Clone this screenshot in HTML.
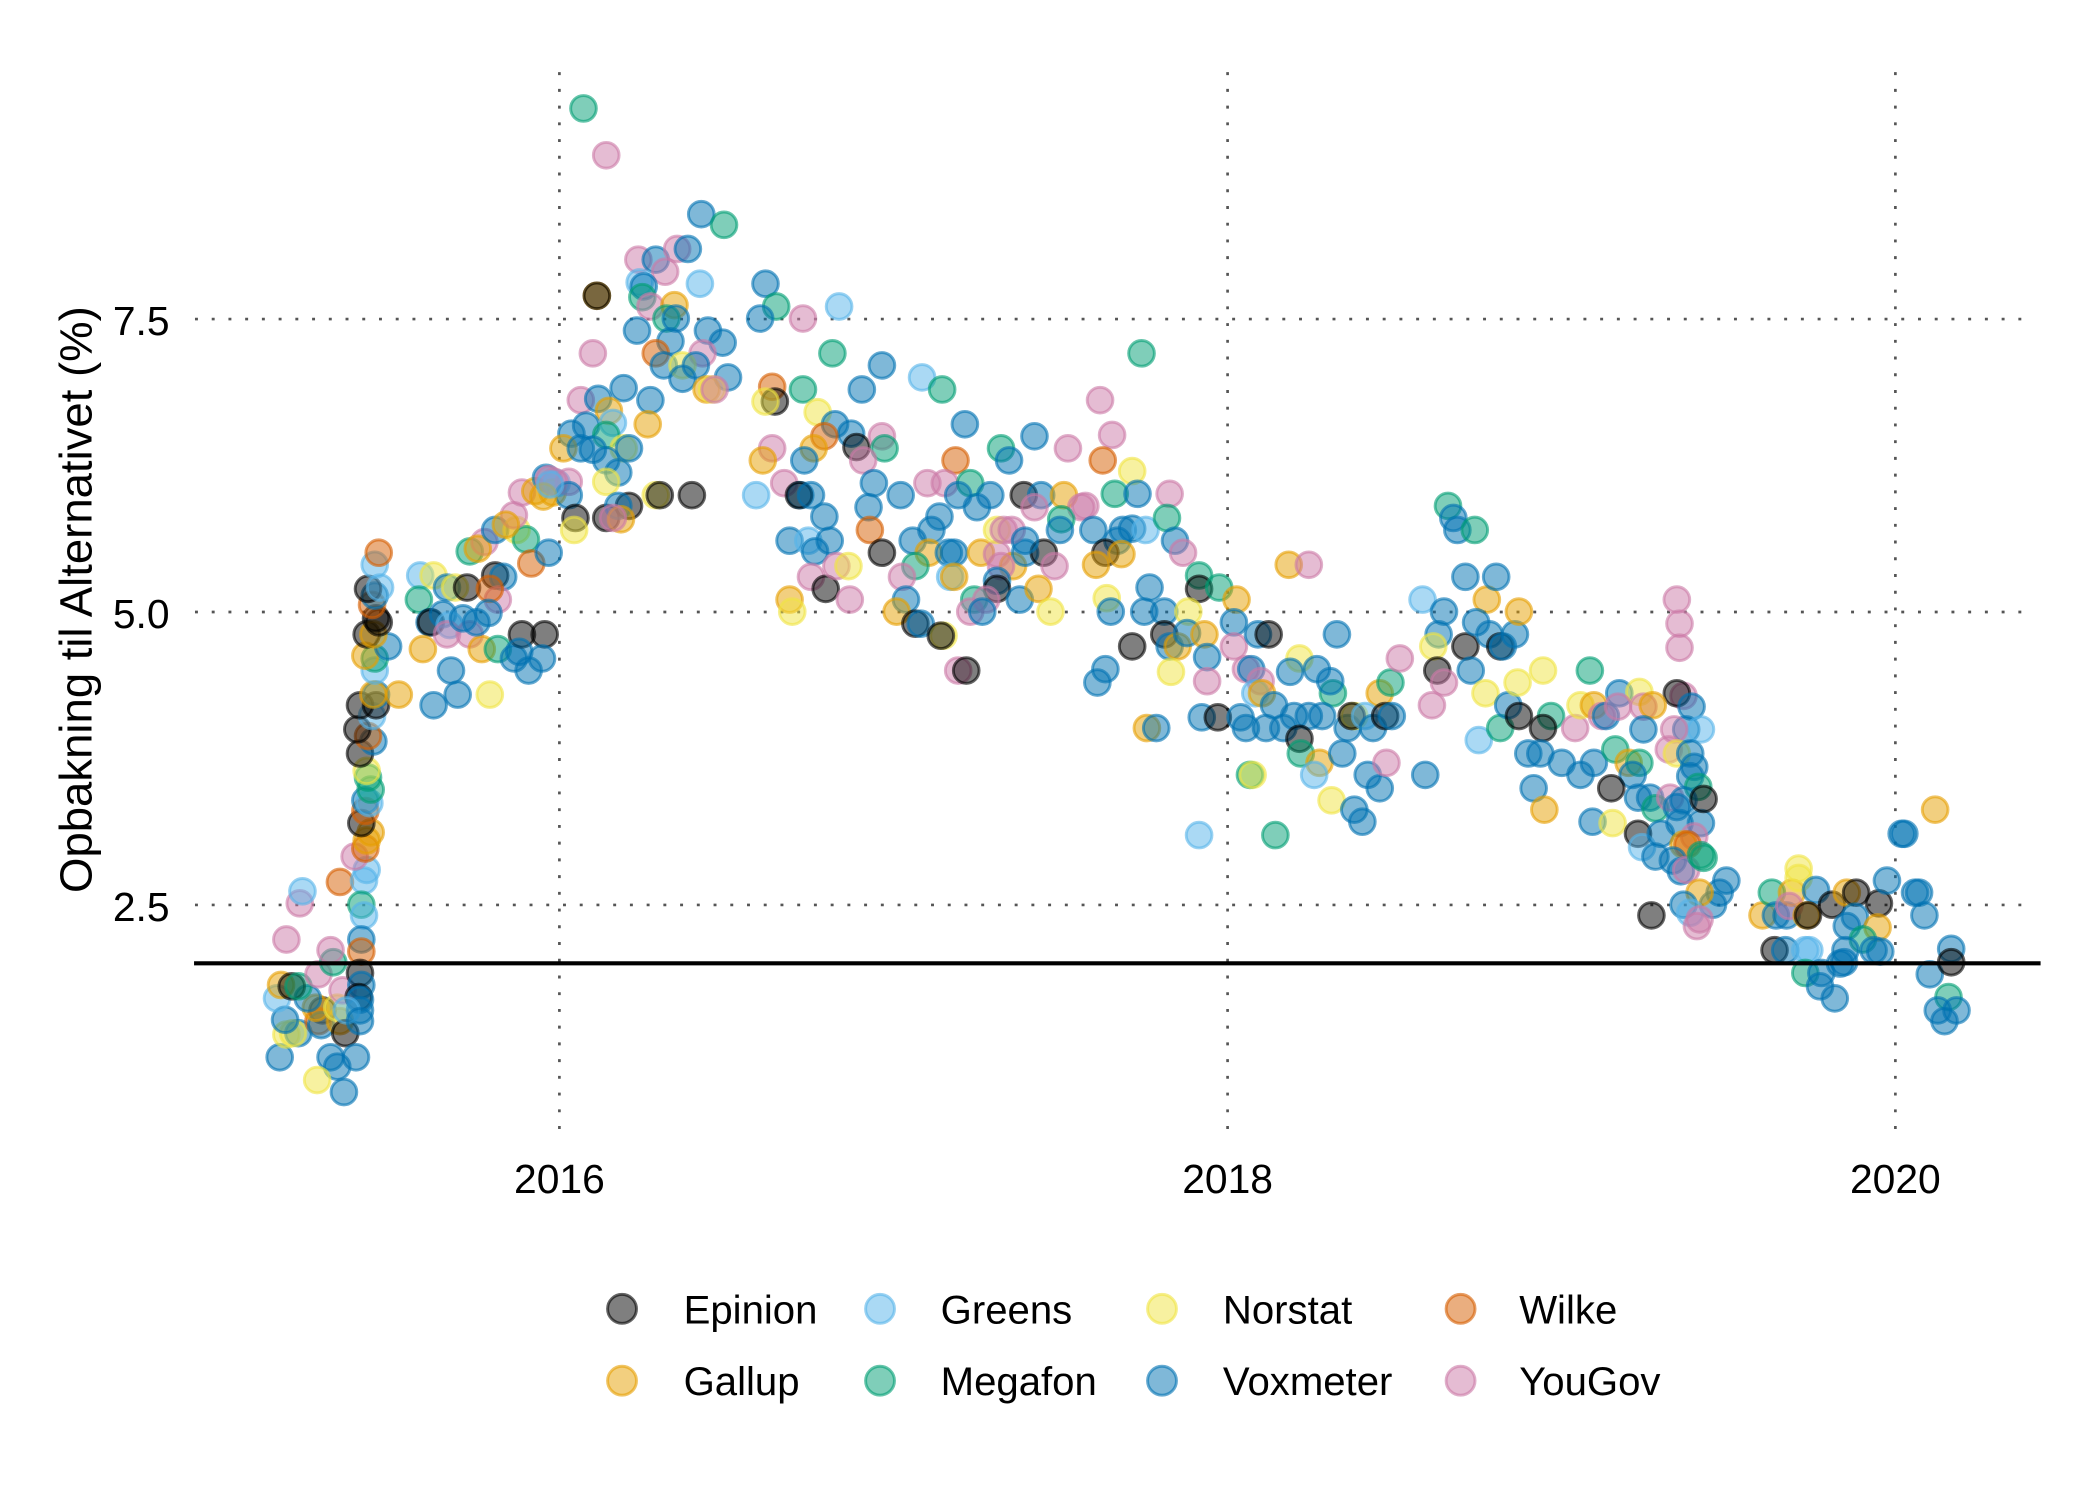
<!DOCTYPE html>
<html><head><meta charset="utf-8">
<style>
html,body{margin:0;padding:0;background:#fff;}
svg{display:block;}
text{font-family:"Liberation Sans",Arial,sans-serif;fill:#000;}
circle{fill-opacity:.5;stroke-opacity:.6;stroke-width:2.2;}
.e{fill:#000;stroke:#000}
.g{fill:#E69F00;stroke:#E69F00}
.r{fill:#56B4E9;stroke:#56B4E9}
.m{fill:#009E73;stroke:#009E73}
.n{fill:#F0E442;stroke:#F0E442}
.v{fill:#0072B2;stroke:#0072B2}
.w{fill:#D55E00;stroke:#D55E00}
.y{fill:#CC79A7;stroke:#CC79A7}
.grid{stroke:#555;stroke-width:2;stroke-dasharray:2.2 10.3;fill:none}
</style></head>
<body>
<svg width="2100" height="1500" viewBox="0 0 1569.2 1120.8" xmlns="http://www.w3.org/2000/svg">
<rect x="0" y="0" width="1569.2" height="1120.8" fill="#fff"/>
<line class="grid" x1="145.7" y1="238.4" x2="1520" y2="238.4"/>
<line class="grid" x1="145.7" y1="457.3" x2="1520" y2="457.3"/>
<line class="grid" x1="145.7" y1="676.2" x2="1520" y2="676.2"/>
<line class="grid" x1="418" y1="53.9" x2="418" y2="852"/>
<line class="grid" x1="917.3" y1="53.9" x2="917.3" y2="852"/>
<line class="grid" x1="1416.3" y1="53.9" x2="1416.3" y2="852"/>
<g font-size="30.5" text-anchor="end">
<text x="126.7" y="250.3">7.5</text>
<text x="126.7" y="469.2">5.0</text>
<text x="126.7" y="688.1">2.5</text>
</g>
<g font-size="30.5" text-anchor="middle">
<text x="418" y="891.5">2016</text>
<text x="917.3" y="891.5">2018</text>
<text x="1416.3" y="891.5">2020</text>
</g>
<text transform="translate(68.4,448) rotate(-90)" text-anchor="middle" font-size="34">Opbakning til Alternativet (%)</text>
<g>
<circle class="v" cx="209" cy="790" r="9.6"/><circle class="n" cx="214" cy="773" r="9.6"/><circle class="v" cx="223" cy="772" r="9.6"/><circle class="n" cx="219" cy="772" r="9.6"/><circle class="v" cx="213" cy="762" r="9.6"/><circle class="e" cx="241" cy="755" r="9.6"/><circle class="w" cx="238" cy="763" r="9.6"/><circle class="v" cx="240" cy="766" r="9.6"/><circle class="g" cx="236" cy="753" r="9.6"/><circle class="g" cx="254" cy="763" r="9.6"/><circle class="n" cx="252" cy="753" r="9.6"/><circle class="y" cx="256" cy="740" r="9.6"/><circle class="r" cx="207" cy="746" r="9.6"/><circle class="v" cx="230" cy="746" r="9.6"/><circle class="g" cx="210" cy="736" r="9.6"/><circle class="e" cx="218" cy="737" r="9.6"/><circle class="m" cx="223" cy="737" r="9.6"/><circle class="y" cx="238" cy="728" r="9.6"/><circle class="m" cx="249" cy="719" r="9.6"/><circle class="y" cx="247" cy="710" r="9.6"/><circle class="y" cx="214" cy="702" r="9.6"/><circle class="y" cx="224" cy="675" r="9.6"/><circle class="r" cx="226" cy="666" r="9.6"/><circle class="e" cx="258" cy="772" r="9.6"/><circle class="v" cx="247" cy="790" r="9.6"/><circle class="v" cx="252" cy="797" r="9.6"/><circle class="v" cx="257" cy="816" r="9.6"/><circle class="n" cx="237" cy="807" r="9.6"/><circle class="v" cx="266" cy="790" r="9.6"/><circle class="w" cx="254" cy="659" r="9.6"/>
<circle class="r" cx="272" cy="658" r="9.6"/><circle class="r" cx="274" cy="650" r="9.6"/><circle class="y" cx="265" cy="640" r="9.6"/><circle class="w" cx="273" cy="634" r="9.6"/><circle class="g" cx="274" cy="628" r="9.6"/><circle class="g" cx="277" cy="622" r="9.6"/><circle class="e" cx="270" cy="615" r="9.6"/><circle class="w" cx="273" cy="606" r="9.6"/><circle class="v" cx="273" cy="598" r="9.6"/><circle class="r" cx="276" cy="600" r="9.6"/><circle class="m" cx="277" cy="590" r="9.6"/><circle class="m" cx="275" cy="581" r="9.6"/><circle class="n" cx="274" cy="576" r="9.6"/><circle class="e" cx="269" cy="563" r="9.6"/><circle class="v" cx="279" cy="554" r="9.6"/><circle class="w" cx="275" cy="550" r="9.6"/><circle class="e" cx="267" cy="545" r="9.6"/><circle class="r" cx="278" cy="535" r="9.6"/><circle class="e" cx="269" cy="527" r="9.6"/><circle class="e" cx="281" cy="527" r="9.6"/><circle class="v" cx="281" cy="519" r="9.6"/><circle class="g" cx="279" cy="519" r="9.6"/><circle class="r" cx="280" cy="501" r="9.6"/><circle class="m" cx="280" cy="492" r="9.6"/><circle class="g" cx="273" cy="490" r="9.6"/><circle class="v" cx="290" cy="483" r="9.6"/><circle class="e" cx="274" cy="474" r="9.6"/><circle class="g" cx="279" cy="474" r="9.6"/><circle class="e" cx="281" cy="462" r="9.6"/><circle class="e" cx="283" cy="465" r="9.6"/><circle class="w" cx="278" cy="452" r="9.6"/><circle class="v" cx="280" cy="445" r="9.6"/><circle class="e" cx="275" cy="440" r="9.6"/><circle class="r" cx="284" cy="439" r="9.6"/><circle class="r" cx="280" cy="422" r="9.6"/><circle class="w" cx="283" cy="413" r="9.6"/><circle class="m" cx="270" cy="676" r="9.6"/><circle class="r" cx="272" cy="684" r="9.6"/><circle class="v" cx="270" cy="702" r="9.6"/><circle class="w" cx="270" cy="711" r="9.6"/><circle class="e" cx="269" cy="727" r="9.6"/><circle class="v" cx="270" cy="736" r="9.6"/><circle class="e" cx="268" cy="745" r="9.6"/><circle class="v" cx="269" cy="747" r="9.6"/><circle class="v" cx="269" cy="755" r="9.6"/><circle class="r" cx="259" cy="755" r="9.6"/><circle class="v" cx="269" cy="763" r="9.6"/><circle class="g" cx="298" cy="519" r="9.6"/>
<circle class="r" cx="314" cy="430" r="9.6"/><circle class="n" cx="324" cy="430" r="9.6"/><circle class="m" cx="313" cy="448" r="9.6"/><circle class="v" cx="334" cy="439" r="9.6"/><circle class="n" cx="340" cy="439" r="9.6"/><circle class="e" cx="349" cy="439" r="9.6"/><circle class="m" cx="351" cy="412" r="9.6"/><circle class="y" cx="362" cy="405" r="9.6"/><circle class="g" cx="357" cy="410" r="9.6"/><circle class="v" cx="370" cy="396" r="9.6"/><circle class="n" cx="386" cy="396" r="9.6"/><circle class="m" cx="393" cy="403" r="9.6"/><circle class="y" cx="384" cy="385" r="9.6"/><circle class="g" cx="378" cy="392" r="9.6"/><circle class="w" cx="397" cy="421" r="9.6"/><circle class="v" cx="410" cy="413" r="9.6"/><circle class="e" cx="370" cy="430" r="9.6"/><circle class="v" cx="376" cy="431" r="9.6"/><circle class="y" cx="372" cy="448" r="9.6"/><circle class="w" cx="366" cy="440" r="9.6"/><circle class="v" cx="321" cy="465" r="9.6"/><circle class="e" cx="322" cy="465" r="9.6"/><circle class="v" cx="331" cy="459" r="9.6"/><circle class="r" cx="336" cy="467" r="9.6"/><circle class="g" cx="316" cy="485" r="9.6"/><circle class="y" cx="334" cy="474" r="9.6"/><circle class="y" cx="351" cy="474" r="9.6"/><circle class="v" cx="346" cy="462" r="9.6"/><circle class="g" cx="360" cy="485" r="9.6"/><circle class="m" cx="372" cy="485" r="9.6"/><circle class="v" cx="365" cy="458" r="9.6"/><circle class="v" cx="356" cy="465" r="9.6"/><circle class="v" cx="384" cy="492" r="9.6"/><circle class="e" cx="390" cy="474" r="9.6"/><circle class="e" cx="407" cy="474" r="9.6"/><circle class="v" cx="395" cy="501" r="9.6"/><circle class="v" cx="405" cy="492" r="9.6"/><circle class="v" cx="388" cy="487" r="9.6"/><circle class="v" cx="337" cy="501" r="9.6"/><circle class="v" cx="342" cy="519" r="9.6"/><circle class="v" cx="324" cy="527" r="9.6"/><circle class="n" cx="366" cy="519" r="9.6"/><circle class="y" cx="390" cy="368" r="9.6"/><circle class="g" cx="400" cy="367" r="9.6"/><circle class="v" cx="408" cy="357" r="9.6"/><circle class="y" cx="410" cy="358" r="9.6"/><circle class="g" cx="413" cy="368" r="9.6"/><circle class="r" cx="416" cy="361" r="9.6"/>
<circle class="m" cx="436" cy="81" r="9.6"/><circle class="y" cx="453" cy="116" r="9.6"/><circle class="v" cx="524" cy="160" r="9.6"/><circle class="m" cx="541" cy="168" r="9.6"/><circle class="y" cx="477" cy="194" r="9.6"/><circle class="v" cx="490" cy="194" r="9.6"/><circle class="y" cx="506" cy="186" r="9.6"/><circle class="v" cx="514" cy="186" r="9.6"/><circle class="y" cx="497" cy="203" r="9.6"/><circle class="r" cx="478" cy="211" r="9.6"/><circle class="v" cx="481" cy="214" r="9.6"/><circle class="m" cx="480" cy="222" r="9.6"/><circle class="r" cx="523" cy="212" r="9.6"/><circle class="g" cx="446" cy="221" r="9.6"/><circle class="e" cx="446" cy="221" r="9.6"/><circle class="y" cx="486" cy="229" r="9.6"/><circle class="g" cx="504" cy="228" r="9.6"/><circle class="m" cx="498" cy="238" r="9.6"/><circle class="v" cx="505" cy="238" r="9.6"/><circle class="v" cx="476" cy="247" r="9.6"/><circle class="v" cx="529" cy="247" r="9.6"/><circle class="v" cx="540" cy="256" r="9.6"/><circle class="v" cx="501" cy="255" r="9.6"/><circle class="y" cx="443" cy="264" r="9.6"/><circle class="w" cx="490" cy="264" r="9.6"/><circle class="y" cx="525" cy="264" r="9.6"/><circle class="v" cx="496" cy="273" r="9.6"/><circle class="n" cx="510" cy="273" r="9.6"/><circle class="v" cx="520" cy="273" r="9.6"/><circle class="v" cx="510" cy="283" r="9.6"/><circle class="v" cx="544" cy="282" r="9.6"/><circle class="g" cx="528" cy="291" r="9.6"/><circle class="n" cx="532" cy="291" r="9.6"/><circle class="y" cx="534" cy="291" r="9.6"/><circle class="y" cx="434" cy="299" r="9.6"/><circle class="v" cx="447" cy="298" r="9.6"/><circle class="v" cx="466" cy="290" r="9.6"/><circle class="v" cx="486" cy="299" r="9.6"/><circle class="g" cx="455" cy="307" r="9.6"/><circle class="g" cx="484" cy="317" r="9.6"/><circle class="v" cx="427" cy="324" r="9.6"/><circle class="v" cx="438" cy="318" r="9.6"/><circle class="r" cx="458" cy="316" r="9.6"/><circle class="g" cx="421" cy="335" r="9.6"/><circle class="v" cx="434" cy="335" r="9.6"/><circle class="m" cx="453" cy="325" r="9.6"/><circle class="v" cx="443" cy="336" r="9.6"/><circle class="n" cx="466" cy="335" r="9.6"/><circle class="v" cx="470" cy="335" r="9.6"/><circle class="v" cx="453" cy="344" r="9.6"/><circle class="v" cx="462" cy="353" r="9.6"/><circle class="n" cx="453" cy="360" r="9.6"/><circle class="y" cx="425" cy="360" r="9.6"/><circle class="y" cx="414" cy="360" r="9.6"/><circle class="v" cx="425" cy="370" r="9.6"/><circle class="g" cx="406" cy="371" r="9.6"/><circle class="r" cx="411" cy="362" r="9.6"/><circle class="e" cx="430" cy="387" r="9.6"/><circle class="n" cx="429" cy="396" r="9.6"/><circle class="e" cx="453" cy="387" r="9.6"/><circle class="e" cx="470" cy="378" r="9.6"/><circle class="v" cx="462" cy="378" r="9.6"/><circle class="g" cx="464" cy="388" r="9.6"/><circle class="y" cx="458" cy="387" r="9.6"/><circle class="n" cx="490" cy="370" r="9.6"/><circle class="e" cx="493" cy="370" r="9.6"/><circle class="e" cx="517" cy="370" r="9.6"/>
<circle class="v" cx="572" cy="212" r="9.6"/><circle class="m" cx="580" cy="229" r="9.6"/><circle class="v" cx="568" cy="238" r="9.6"/><circle class="y" cx="600" cy="238" r="9.6"/><circle class="r" cx="627" cy="229" r="9.6"/><circle class="m" cx="622" cy="264" r="9.6"/><circle class="v" cx="659" cy="273" r="9.6"/><circle class="v" cx="644" cy="291" r="9.6"/><circle class="r" cx="689" cy="282" r="9.6"/><circle class="m" cx="704" cy="291" r="9.6"/><circle class="w" cx="577" cy="289" r="9.6"/><circle class="e" cx="579" cy="300" r="9.6"/><circle class="n" cx="572" cy="300" r="9.6"/><circle class="m" cx="600" cy="291" r="9.6"/><circle class="n" cx="611" cy="308" r="9.6"/><circle class="v" cx="624" cy="317" r="9.6"/><circle class="v" cx="636" cy="324" r="9.6"/><circle class="e" cx="640" cy="334" r="9.6"/><circle class="y" cx="659" cy="326" r="9.6"/><circle class="m" cx="661" cy="335" r="9.6"/><circle class="y" cx="645" cy="344" r="9.6"/><circle class="w" cx="616" cy="326" r="9.6"/><circle class="g" cx="608" cy="335" r="9.6"/><circle class="y" cx="577" cy="335" r="9.6"/><circle class="v" cx="601" cy="344" r="9.6"/><circle class="g" cx="570" cy="344" r="9.6"/><circle class="v" cx="721" cy="317" r="9.6"/><circle class="m" cx="748" cy="335" r="9.6"/><circle class="v" cx="754" cy="344" r="9.6"/><circle class="v" cx="773" cy="326" r="9.6"/><circle class="y" cx="798" cy="335" r="9.6"/><circle class="w" cx="714" cy="344" r="9.6"/><circle class="y" cx="693" cy="361" r="9.6"/><circle class="y" cx="706" cy="361" r="9.6"/><circle class="m" cx="725" cy="361" r="9.6"/><circle class="v" cx="716" cy="370" r="9.6"/><circle class="v" cx="740" cy="370" r="9.6"/><circle class="e" cx="765" cy="370" r="9.6"/><circle class="v" cx="778" cy="370" r="9.6"/><circle class="g" cx="795" cy="370" r="9.6"/><circle class="y" cx="808" cy="379" r="9.6"/><circle class="y" cx="773" cy="379" r="9.6"/><circle class="v" cx="730" cy="379" r="9.6"/><circle class="v" cx="653" cy="361" r="9.6"/><circle class="v" cx="673" cy="370" r="9.6"/><circle class="v" cx="649" cy="379" r="9.6"/><circle class="y" cx="586" cy="361" r="9.6"/><circle class="v" cx="598" cy="370" r="9.6"/><circle class="e" cx="597" cy="370" r="9.6"/><circle class="v" cx="606" cy="370" r="9.6"/><circle class="r" cx="565" cy="370" r="9.6"/><circle class="v" cx="616" cy="386" r="9.6"/><circle class="w" cx="650" cy="396" r="9.6"/><circle class="e" cx="659" cy="413" r="9.6"/><circle class="v" cx="590" cy="404" r="9.6"/><circle class="r" cx="604" cy="404" r="9.6"/><circle class="v" cx="620" cy="404" r="9.6"/><circle class="v" cx="609" cy="412" r="9.6"/><circle class="y" cx="606" cy="431" r="9.6"/><circle class="e" cx="617" cy="440" r="9.6"/><circle class="y" cx="625" cy="423" r="9.6"/><circle class="n" cx="634" cy="423" r="9.6"/><circle class="y" cx="635" cy="448" r="9.6"/><circle class="g" cx="590" cy="448" r="9.6"/><circle class="n" cx="592" cy="457" r="9.6"/><circle class="v" cx="702" cy="386" r="9.6"/><circle class="v" cx="696" cy="396" r="9.6"/><circle class="v" cx="682" cy="404" r="9.6"/><circle class="g" cx="694" cy="413" r="9.6"/><circle class="v" cx="709" cy="413" r="9.6"/><circle class="v" cx="713" cy="413" r="9.6"/><circle class="m" cx="684" cy="423" r="9.6"/><circle class="r" cx="710" cy="431" r="9.6"/><circle class="g" cx="713" cy="431" r="9.6"/><circle class="y" cx="674" cy="431" r="9.6"/><circle class="v" cx="677" cy="448" r="9.6"/><circle class="g" cx="670" cy="457" r="9.6"/><circle class="e" cx="684" cy="466" r="9.6"/><circle class="v" cx="688" cy="466" r="9.6"/><circle class="n" cx="705" cy="475" r="9.6"/><circle class="e" cx="703" cy="475" r="9.6"/><circle class="y" cx="716" cy="501" r="9.6"/><circle class="e" cx="722" cy="501" r="9.6"/><circle class="g" cx="733" cy="413" r="9.6"/><circle class="y" cx="745" cy="414" r="9.6"/><circle class="g" cx="757" cy="423" r="9.6"/><circle class="v" cx="766" cy="413" r="9.6"/><circle class="e" cx="780" cy="413" r="9.6"/><circle class="y" cx="788" cy="423" r="9.6"/><circle class="y" cx="748" cy="423" r="9.6"/><circle class="v" cx="745" cy="434" r="9.6"/><circle class="e" cx="745" cy="440" r="9.6"/><circle class="m" cx="728" cy="448" r="9.6"/><circle class="y" cx="737" cy="448" r="9.6"/><circle class="y" cx="725" cy="457" r="9.6"/><circle class="v" cx="734" cy="457" r="9.6"/><circle class="v" cx="762" cy="448" r="9.6"/><circle class="g" cx="776" cy="440" r="9.6"/><circle class="n" cx="785" cy="457" r="9.6"/><circle class="m" cx="793" cy="388" r="9.6"/><circle class="v" cx="792" cy="396" r="9.6"/><circle class="n" cx="745" cy="396" r="9.6"/><circle class="y" cx="750" cy="396" r="9.6"/><circle class="y" cx="756" cy="396" r="9.6"/><circle class="v" cx="766" cy="404" r="9.6"/>
<circle class="m" cx="853" cy="264" r="9.6"/><circle class="y" cx="822" cy="299" r="9.6"/><circle class="y" cx="831" cy="325" r="9.6"/><circle class="w" cx="824" cy="344" r="9.6"/><circle class="n" cx="846" cy="352" r="9.6"/><circle class="m" cx="833" cy="369" r="9.6"/><circle class="v" cx="850" cy="369" r="9.6"/><circle class="y" cx="874" cy="369" r="9.6"/><circle class="y" cx="811" cy="378" r="9.6"/><circle class="v" cx="817" cy="396" r="9.6"/><circle class="v" cx="839" cy="396" r="9.6"/><circle class="v" cx="846" cy="395" r="9.6"/><circle class="r" cx="856" cy="396" r="9.6"/><circle class="v" cx="835" cy="404" r="9.6"/><circle class="m" cx="872" cy="387" r="9.6"/><circle class="v" cx="878" cy="404" r="9.6"/><circle class="y" cx="884" cy="413" r="9.6"/><circle class="e" cx="826" cy="413" r="9.6"/><circle class="g" cx="819" cy="422" r="9.6"/><circle class="g" cx="838" cy="414" r="9.6"/><circle class="v" cx="859" cy="439" r="9.6"/><circle class="m" cx="896" cy="430" r="9.6"/><circle class="e" cx="896" cy="440" r="9.6"/><circle class="m" cx="911" cy="439" r="9.6"/><circle class="g" cx="924" cy="448" r="9.6"/><circle class="n" cx="827" cy="447" r="9.6"/><circle class="v" cx="830" cy="457" r="9.6"/><circle class="v" cx="855" cy="457" r="9.6"/><circle class="v" cx="870" cy="457" r="9.6"/><circle class="n" cx="888" cy="457" r="9.6"/><circle class="e" cx="870" cy="474" r="9.6"/><circle class="v" cx="874" cy="483" r="9.6"/><circle class="g" cx="880" cy="483" r="9.6"/><circle class="v" cx="887" cy="473" r="9.6"/><circle class="g" cx="900" cy="474" r="9.6"/><circle class="v" cx="902" cy="491" r="9.6"/><circle class="n" cx="875" cy="502" r="9.6"/><circle class="e" cx="846" cy="483" r="9.6"/><circle class="v" cx="826" cy="500" r="9.6"/><circle class="v" cx="820" cy="510" r="9.6"/><circle class="y" cx="902" cy="509" r="9.6"/><circle class="v" cx="922" cy="465" r="9.6"/><circle class="y" cx="922" cy="483" r="9.6"/><circle class="v" cx="940" cy="474" r="9.6"/><circle class="e" cx="948" cy="474" r="9.6"/><circle class="g" cx="963" cy="422" r="9.6"/><circle class="y" cx="978" cy="422" r="9.6"/><circle class="v" cx="999" cy="474" r="9.6"/><circle class="n" cx="971" cy="492" r="9.6"/><circle class="v" cx="964" cy="502" r="9.6"/><circle class="v" cx="984" cy="500" r="9.6"/><circle class="y" cx="931" cy="500" r="9.6"/><circle class="v" cx="935" cy="500" r="9.6"/><circle class="y" cx="942" cy="509" r="9.6"/><circle class="r" cx="938" cy="518" r="9.6"/><circle class="g" cx="943" cy="518" r="9.6"/><circle class="m" cx="996" cy="518" r="9.6"/><circle class="v" cx="994" cy="509" r="9.6"/><circle class="g" cx="1031" cy="518" r="9.6"/><circle class="m" cx="1039" cy="510" r="9.6"/><circle class="y" cx="1046" cy="492" r="9.6"/><circle class="v" cx="898" cy="536" r="9.6"/><circle class="e" cx="910" cy="536" r="9.6"/><circle class="v" cx="927" cy="536" r="9.6"/><circle class="v" cx="931" cy="544" r="9.6"/><circle class="v" cx="946" cy="544" r="9.6"/><circle class="v" cx="952" cy="527" r="9.6"/><circle class="v" cx="959" cy="544" r="9.6"/><circle class="v" cx="967" cy="535" r="9.6"/><circle class="v" cx="978" cy="535" r="9.6"/><circle class="v" cx="988" cy="535" r="9.6"/><circle class="v" cx="1007" cy="544" r="9.6"/><circle class="n" cx="1012" cy="535" r="9.6"/><circle class="e" cx="1010" cy="535" r="9.6"/><circle class="r" cx="1020" cy="535" r="9.6"/><circle class="v" cx="1026" cy="544" r="9.6"/><circle class="e" cx="1035" cy="535" r="9.6"/><circle class="v" cx="1040" cy="535" r="9.6"/><circle class="e" cx="971" cy="552" r="9.6"/><circle class="m" cx="972" cy="563" r="9.6"/><circle class="g" cx="986" cy="570" r="9.6"/><circle class="r" cx="982" cy="579" r="9.6"/><circle class="v" cx="1003" cy="563" r="9.6"/><circle class="v" cx="1022" cy="579" r="9.6"/><circle class="v" cx="1031" cy="589" r="9.6"/><circle class="y" cx="1036" cy="570" r="9.6"/><circle class="v" cx="1065" cy="579" r="9.6"/><circle class="n" cx="995" cy="598" r="9.6"/><circle class="v" cx="1012" cy="605" r="9.6"/><circle class="v" cx="1018" cy="614" r="9.6"/><circle class="m" cx="934" cy="579" r="9.6"/><circle class="n" cx="936" cy="579" r="9.6"/><circle class="r" cx="896" cy="624" r="9.6"/><circle class="m" cx="953" cy="624" r="9.6"/><circle class="g" cx="857" cy="544" r="9.6"/><circle class="v" cx="864" cy="544" r="9.6"/><circle class="g" cx="1111" cy="448" r="9.6"/><circle class="r" cx="1063" cy="448" r="9.6"/><circle class="v" cx="1079" cy="457" r="9.6"/><circle class="v" cx="1075" cy="474" r="9.6"/><circle class="n" cx="1071" cy="483" r="9.6"/><circle class="e" cx="1095" cy="483" r="9.6"/><circle class="v" cx="1103" cy="465" r="9.6"/><circle class="v" cx="1113" cy="474" r="9.6"/><circle class="e" cx="1121" cy="483" r="9.6"/><circle class="v" cx="1123" cy="483" r="9.6"/><circle class="v" cx="1132" cy="474" r="9.6"/><circle class="g" cx="1135" cy="457" r="9.6"/><circle class="v" cx="1095" cy="431" r="9.6"/><circle class="v" cx="1118" cy="431" r="9.6"/><circle class="m" cx="1082" cy="378" r="9.6"/><circle class="v" cx="1086" cy="387" r="9.6"/><circle class="v" cx="1089" cy="396" r="9.6"/><circle class="m" cx="1102" cy="396" r="9.6"/><circle class="e" cx="1074" cy="501" r="9.6"/><circle class="y" cx="1079" cy="510" r="9.6"/><circle class="v" cx="1099" cy="501" r="9.6"/><circle class="y" cx="1070" cy="527" r="9.6"/><circle class="n" cx="1110" cy="518" r="9.6"/><circle class="r" cx="1105" cy="553" r="9.6"/><circle class="m" cx="1121" cy="544" r="9.6"/><circle class="v" cx="1127" cy="527" r="9.6"/><circle class="e" cx="1135" cy="535" r="9.6"/><circle class="m" cx="1159" cy="535" r="9.6"/><circle class="e" cx="1153" cy="544" r="9.6"/><circle class="v" cx="1142" cy="563" r="9.6"/><circle class="v" cx="1151" cy="563" r="9.6"/><circle class="v" cx="1146" cy="589" r="9.6"/><circle class="g" cx="1154" cy="605" r="9.6"/><circle class="n" cx="1134" cy="510" r="9.6"/><circle class="n" cx="1153" cy="501" r="9.6"/><circle class="m" cx="1188" cy="501" r="9.6"/><circle class="y" cx="1177" cy="544" r="9.6"/><circle class="n" cx="1181" cy="527" r="9.6"/><circle class="g" cx="1191" cy="527" r="9.6"/><circle class="y" cx="1197" cy="535" r="9.6"/><circle class="v" cx="1200" cy="535" r="9.6"/><circle class="v" cx="1167" cy="570" r="9.6"/><circle class="v" cx="1181" cy="579" r="9.6"/><circle class="v" cx="1191" cy="570" r="9.6"/><circle class="v" cx="1190" cy="614" r="9.6"/>
<circle class="y" cx="1253" cy="448" r="9.6"/><circle class="y" cx="1255" cy="466" r="9.6"/><circle class="y" cx="1255" cy="484" r="9.6"/><circle class="y" cx="1258" cy="520" r="9.6"/><circle class="e" cx="1253" cy="518" r="9.6"/><circle class="v" cx="1210" cy="518" r="9.6"/><circle class="n" cx="1225" cy="517" r="9.6"/><circle class="y" cx="1209" cy="528" r="9.6"/><circle class="y" cx="1228" cy="528" r="9.6"/><circle class="g" cx="1235" cy="527" r="9.6"/><circle class="v" cx="1264" cy="528" r="9.6"/><circle class="v" cx="1228" cy="545" r="9.6"/><circle class="v" cx="1260" cy="545" r="9.6"/><circle class="r" cx="1271" cy="545" r="9.6"/><circle class="y" cx="1251" cy="545" r="9.6"/><circle class="m" cx="1207" cy="560" r="9.6"/><circle class="g" cx="1217" cy="570" r="9.6"/><circle class="m" cx="1225" cy="570" r="9.6"/><circle class="v" cx="1220" cy="579" r="9.6"/><circle class="y" cx="1247" cy="560" r="9.6"/><circle class="n" cx="1253" cy="563" r="9.6"/><circle class="v" cx="1263" cy="563" r="9.6"/><circle class="v" cx="1266" cy="573" r="9.6"/><circle class="v" cx="1263" cy="580" r="9.6"/><circle class="m" cx="1269" cy="588" r="9.6"/><circle class="e" cx="1204" cy="589" r="9.6"/><circle class="v" cx="1224" cy="596" r="9.6"/><circle class="v" cx="1233" cy="596" r="9.6"/><circle class="m" cx="1237" cy="604" r="9.6"/><circle class="y" cx="1248" cy="596" r="9.6"/><circle class="v" cx="1258" cy="598" r="9.6"/><circle class="n" cx="1205" cy="615" r="9.6"/><circle class="e" cx="1224" cy="623" r="9.6"/><circle class="r" cx="1227" cy="633" r="9.6"/><circle class="v" cx="1237" cy="640" r="9.6"/><circle class="v" cx="1241" cy="623" r="9.6"/><circle class="v" cx="1253" cy="603" r="9.6"/><circle class="v" cx="1271" cy="615" r="9.6"/><circle class="v" cx="1255" cy="615" r="9.6"/><circle class="y" cx="1266" cy="625" r="9.6"/><circle class="g" cx="1258" cy="631" r="9.6"/><circle class="w" cx="1261" cy="631" r="9.6"/><circle class="v" cx="1250" cy="643" r="9.6"/><circle class="v" cx="1256" cy="651" r="9.6"/><circle class="y" cx="1260" cy="650" r="9.6"/><circle class="v" cx="1290" cy="658" r="9.6"/><circle class="v" cx="1285" cy="667" r="9.6"/><circle class="v" cx="1280" cy="676" r="9.6"/><circle class="g" cx="1270" cy="667" r="9.6"/><circle class="v" cx="1258" cy="676" r="9.6"/><circle class="r" cx="1263" cy="682" r="9.6"/><circle class="y" cx="1268" cy="692" r="9.6"/><circle class="y" cx="1270" cy="687" r="9.6"/><circle class="e" cx="1273" cy="597" r="9.6"/><circle class="m" cx="1273" cy="641" r="9.6"/><circle class="m" cx="1271" cy="639" r="9.6"/><circle class="e" cx="1234" cy="684" r="9.6"/><circle class="g" cx="1317" cy="684" r="9.6"/><circle class="m" cx="1324" cy="667" r="9.6"/><circle class="v" cx="1327" cy="684" r="9.6"/><circle class="v" cx="1335" cy="684" r="9.6"/><circle class="g" cx="1339" cy="667" r="9.6"/><circle class="y" cx="1337" cy="677" r="9.6"/><circle class="n" cx="1344" cy="649" r="9.6"/><circle class="n" cx="1344" cy="656" r="9.6"/><circle class="v" cx="1357" cy="665" r="9.6"/><circle class="g" cx="1350" cy="684" r="9.6"/><circle class="e" cx="1351" cy="684" r="9.6"/><circle class="e" cx="1369" cy="676" r="9.6"/><circle class="g" cx="1380" cy="667" r="9.6"/><circle class="e" cx="1387" cy="667" r="9.6"/><circle class="e" cx="1404" cy="675" r="9.6"/><circle class="v" cx="1410" cy="658" r="9.6"/><circle class="v" cx="1431" cy="667" r="9.6"/><circle class="v" cx="1434" cy="667" r="9.6"/><circle class="v" cx="1438" cy="684" r="9.6"/><circle class="v" cx="1386" cy="685" r="9.6"/><circle class="v" cx="1380" cy="692" r="9.6"/><circle class="g" cx="1403" cy="693" r="9.6"/><circle class="m" cx="1392" cy="702" r="9.6"/><circle class="v" cx="1400" cy="710" r="9.6"/><circle class="v" cx="1405" cy="711" r="9.6"/><circle class="v" cx="1379" cy="710" r="9.6"/><circle class="e" cx="1326" cy="710" r="9.6"/><circle class="v" cx="1334" cy="710" r="9.6"/><circle class="r" cx="1349" cy="710" r="9.6"/><circle class="r" cx="1352" cy="710" r="9.6"/><circle class="m" cx="1349" cy="727" r="9.6"/><circle class="v" cx="1361" cy="727" r="9.6"/><circle class="v" cx="1375" cy="720" r="9.6"/><circle class="v" cx="1378" cy="719" r="9.6"/><circle class="v" cx="1360" cy="737" r="9.6"/><circle class="v" cx="1371" cy="746" r="9.6"/><circle class="v" cx="1421" cy="623" r="9.6"/><circle class="v" cx="1423" cy="623" r="9.6"/><circle class="g" cx="1446" cy="605" r="9.6"/><circle class="v" cx="1442" cy="728" r="9.6"/><circle class="v" cx="1458" cy="709" r="9.6"/><circle class="e" cx="1458" cy="719" r="9.6"/><circle class="m" cx="1456" cy="745" r="9.6"/><circle class="v" cx="1448" cy="755" r="9.6"/><circle class="v" cx="1462" cy="755" r="9.6"/><circle class="v" cx="1453" cy="763" r="9.6"/>
</g>
<line x1="145" y1="719.8" x2="1524.8" y2="719.8" stroke="#000" stroke-width="3"/>
<g>
<circle class="e" cx="464.8" cy="978" r="10.8"/>
<circle class="g" cx="464.8" cy="1031.7" r="10.8"/>
<circle class="r" cx="657.6" cy="978" r="10.8"/>
<circle class="m" cx="657.6" cy="1031.7" r="10.8"/>
<circle class="n" cx="868.3" cy="978" r="10.8"/>
<circle class="v" cx="868.3" cy="1031.7" r="10.8"/>
<circle class="w" cx="1091.4" cy="978" r="10.8"/>
<circle class="y" cx="1091.4" cy="1031.7" r="10.8"/>
</g>
<g font-size="30">
<text x="510.8" y="988.8">Epinion</text>
<text x="510.8" y="1042.5">Gallup</text>
<text x="702.9" y="988.8">Greens</text>
<text x="702.9" y="1042.5">Megafon</text>
<text x="913.8" y="988.8">Norstat</text>
<text x="913.8" y="1042.5">Voxmeter</text>
<text x="1135.2" y="988.8">Wilke</text>
<text x="1135.2" y="1042.5">YouGov</text>
</g>
</svg>
</body></html>
